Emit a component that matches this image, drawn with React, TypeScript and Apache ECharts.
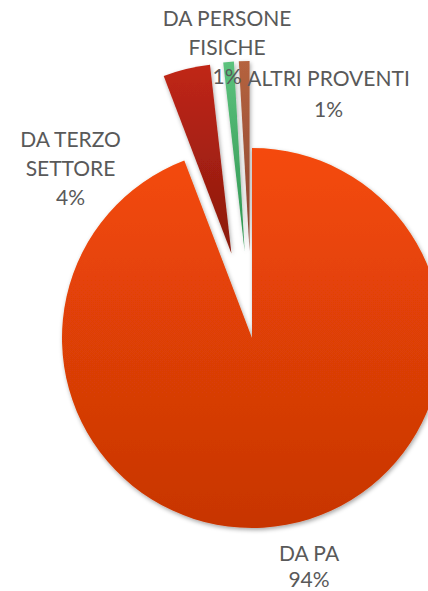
import React, { useEffect, useRef } from "react";
import * as echarts from "echarts";

// Data
const categories = ["DA PA", "DA TERZO SETTORE", "DA PERSONE FISICHE", "ALTRI PROVENTI"];
const labelNames = ["DA PA", "DA TERZO\nSETTORE", "DA PERSONE\nFISICHE", "ALTRI PROVENTI"];
const values = [94.2, 4.0, 0.9, 0.9];
const exploded = [false, true, true, true];

// Styling / layout constants
const colorStops = [
  ["#F54A08", "#C73505"],
  ["#C02616", "#8A1A0E"],
  ["#5CC27D", "#2E9450"],
  ["#B5633F", "#8A4330"],
];
const labelPos = [
  [309, 565],
  [70.5, 167],
  [227, 46.5],
  [328.5, 92.5],
];
const labelLineHeights = [26, 29, 29, 31];

export default function App() {
  const ref = useRef<HTMLDivElement>(null);
  useEffect(() => {
    if (!ref.current) return;
    const chart = echarts.init(ref.current, undefined, { renderer: "svg" });
    const mkColor = (i: number) =>
      new echarts.graphic.LinearGradient(0, 0, 0, 1, [
        { offset: 0, color: colorStops[i][0] },
        { offset: 1, color: colorStops[i][1] },
      ]);
    const shadow = {
      shadowBlur: 4,
      shadowOffsetX: 1,
      shadowOffsetY: 2,
      shadowColor: "rgba(0,0,0,0.35)",
    };
    const hidden = { color: "rgba(0,0,0,0)", shadowBlur: 0, shadowColor: "rgba(0,0,0,0)" };
    const common = {
      type: "pie" as const,
      center: [252, 338],
      radius: 190,
      startAngle: 90,
      clockwise: true,
      avoidLabelOverlap: false,
      emphasis: { disabled: true },
      labelLine: { show: false },
    };
    const baseData = categories.map((c, i) => ({
      name: c,
      value: values[i],
      itemStyle: exploded[i] ? hidden : { color: mkColor(i), ...shadow },
      label: { lineHeight: labelLineHeights[i] },
    }));
    const explodedData = categories.map((c, i) => ({
      name: c,
      value: values[i],
      selected: exploded[i],
      itemStyle: exploded[i] ? { color: mkColor(i), ...shadow } : hidden,
      select: { itemStyle: exploded[i] ? { color: mkColor(i), ...shadow } : hidden },
    }));
    chart.setOption({
      animation: false,
      series: [
        {
          ...common,
          z: 2,
          selectedMode: "multiple",
          selectedOffset: 87,
          data: explodedData,
          label: { show: false },
        },
        {
          ...common,
          z: 3,
          silent: true,
          data: baseData,
          label: {
            show: true,
            position: "outside",
            color: "#595959",
            fontFamily: "Lato, 'Open Sans', sans-serif",
            fontSize: 21,
            lineHeight: 29,
            align: "center",
            formatter: (p: any) => `${labelNames[p.dataIndex]}\n${Math.round(p.percent)}%`,
          },
          labelLayout: (p: any) => ({
            x: labelPos[p.dataIndex][0],
            y: labelPos[p.dataIndex][1],
            align: "center",
            verticalAlign: "middle",
          }),
        },
      ],
    });
    return () => chart.dispose();
  }, []);
  return (
    <div
      ref={ref}
      style={{ position: "fixed", left: 0, top: 0, width: 428, height: 591, background: "#fff" }}
    />
  );
}
